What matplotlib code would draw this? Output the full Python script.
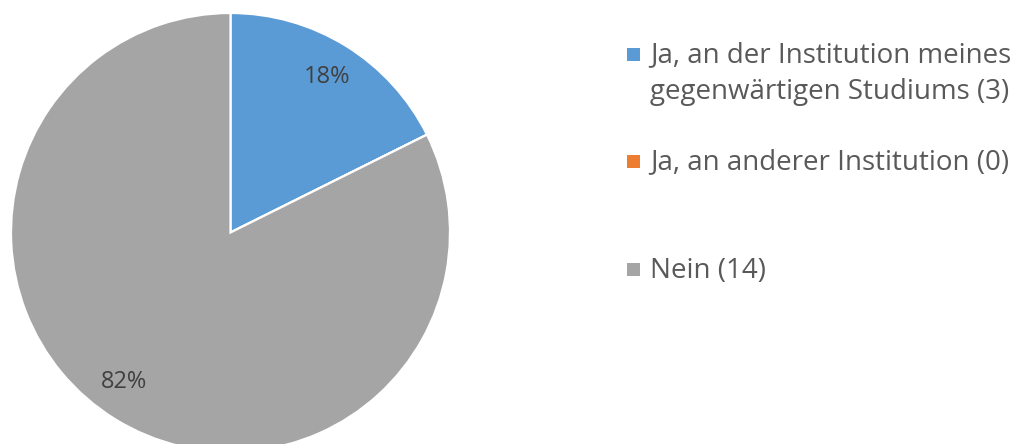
import matplotlib
matplotlib.use('Agg')
import matplotlib.pyplot as plt
from matplotlib.patches import Rectangle
import numpy as np

labels = ['Ja, an der Institution meines\ngegenwärtigen Studiums (3)',
          'Ja, an anderer Institution (0)',
          'Nein (14)']
values = [3, 0, 14]
colors = ['#5B9BD5', '#ED7D31', '#A5A5A5']

W, H = 1027, 444
plt.rcParams['font.family'] = ['Open Sans', 'DejaVu Sans']

fig = plt.figure(figsize=(W / 100, H / 100), dpi=100)

# pie axes, placed in pixels (center ~ (230.5, 232.5), radius ~219.5)
cx, cy, r = 230.5, 232.5, 219.5
ax = fig.add_axes([(cx - r) / W, (H - cy - r) / H, 2 * r / W, 2 * r / H])

def pct(p):
    return '' if p < 0.5 else '%.0f%%' % p

wedges, texts, autotexts = ax.pie(values, colors=colors, startangle=90, counterclock=False,
                                  autopct=pct, pctdistance=0.835,
                                  wedgeprops=dict(edgecolor='white', linewidth=1.6),
                                  textprops=dict(color='#404040', fontsize=17))
# excel puts the big label a bit further round
x, y = autotexts[2].get_position()
a = np.arctan2(y, x) - np.radians(3.8)
d = np.hypot(x, y)
autotexts[2].set_position((d * np.cos(a), d * np.sin(a)))

ax.set_xlim(-1, 1)
ax.set_ylim(-1, 1)
ax.set_aspect('equal')
ax.axis('off')

# legend drawn by hand (Excel style spacing)
row_y = [54.5, 161.5, 269.5]   # marker centers, px from top
line_gap = 37
for lab, col, yy in zip(labels, colors, row_y):
    fig.patches.append(Rectangle((627 / W, (H - yy - 6.5) / H), 13 / W, 13 / H,
                                 transform=fig.transFigure, facecolor=col, edgecolor='none'))
    for i, line in enumerate(lab.split('\n')):
        fig.text(650 / W, (H - (yy + 8 + i * line_gap)) / H, line, fontsize=20,
                 color='#595959', va='baseline', ha='left')

fig.savefig('out.png', dpi=100)
